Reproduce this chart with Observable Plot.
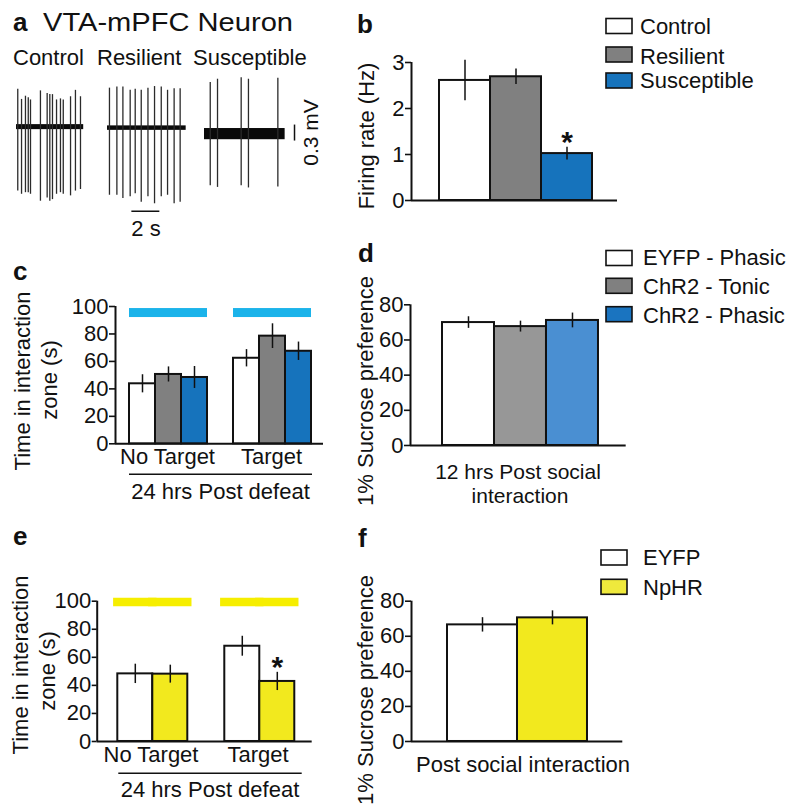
<!DOCTYPE html>
<html><head><meta charset="utf-8">
<script src="https://cdn.jsdelivr.net/npm/d3@7"></script>
<script src="https://cdn.jsdelivr.net/npm/@observablehq/plot@0.6"></script>
<style>
html,body{margin:0;padding:0;background:#fff;}
#fig{position:relative;width:800px;height:808px;overflow:hidden;font-family:"Liberation Sans",Arial,Helvetica,sans-serif;background:#fff;}
#fig > .p{position:absolute;}
#fig svg{overflow:visible;}
#fig [aria-label^="y-axis"] line, #fig [aria-label^="y-axis"] path{stroke-width:1.6px;}
</style></head><body><div id="fig"></div>
<script>
// ---------- DATA ----------
// a: spike traces (time s, spike peak / trough mV)
const controlSpikeTimes = [0.09,0.36,0.64,0.84,1.0,1.71,2.19,2.38,2.57,2.86,3.14,3.34,3.86,4.21,4.57];
const controlSpikeUp    = [0.71,0.52,0.58,0.55,0.51,0.68,0.63,0.61,0.61,0.51,0.53,0.51,0.57,0.69,0.57];
const controlSpikeDown  = [-1.20,-1.26,-1.23,-1.23,-1.26,-1.39,-1.33,-1.39,-1.36,-1.26,-1.23,-1.26,-1.29,-1.20,-1.17];
const resilientSpikeTimes = [0.14,0.67,1.10,1.62,1.98,2.41,2.89,3.36,3.84,4.29,4.76,5.19];
const resilientSpikeUp    = [0.75,0.77,0.77,0.71,0.73,0.71,0.75,0.78,0.77,0.71,0.74,0.74];
const resilientSpikeDown  = [-1.26,-1.26,-1.32,-1.29,-1.23,-1.39,-1.29,-1.42,-1.29,-1.26,-1.42,-1.39];
const susceptibleSpikeTimes = [0.41,0.93,2.62,3.14,5.24];
const susceptibleSpikeUp    = [0.97,1.03,1.06,1.03,1.05];
const susceptibleSpikeDown  = [-0.97,-1.00,-0.97,-1.01,-0.99];
const traceNames = ["Control","Resilient","Susceptible"];
const traceDuration = [4.8, 5.62, 5.76];      // s
const traceNoise = [0.047, 0.042, 0.105];      // mV half-band
const timeScaleBar = 2;      // s
const voltScaleBar = 0.3;    // mV

// b: firing rate
const firingGroups = ["Control","Resilient","Susceptible"];
const firingRate = [2.61, 2.69, 1.02];
const firingSem  = [0.44, 0.17, 0.14];
const firingSig  = [false, false, true];

// c / d: ChR2
const socialGroups = ["No Target","Target"];
const chr2Conds = ["EYFP - Phasic","ChR2 - Tonic","ChR2 - Phasic"];
const chr2NoTarget    = [43.7, 50.5, 48.3];
const chr2NoTargetSem = [6.6, 5.5, 8.0];
const chr2Target      = [62.3, 78.4, 67.4];
const chr2TargetSem   = [6.3, 9.0, 6.7];
const blueLightLevel  = 95.6;
const chr2Sucrose     = [69.9, 67.6, 71.1];
const chr2SucroseSem  = [3.3, 3.1, 4.2];

// e / f: NpHR
const nphrConds = ["EYFP","NpHR"];
const nphrNoTarget    = [48.2, 48.0];
const nphrNoTargetSem = [6.9, 6.4];
const nphrTarget      = [67.9, 42.8];
const nphrTargetSem   = [7.1, 6.5];
const nphrTargetSig   = [false, true];
const yellowLightLevel = 99.4;
const nphrSucrose     = [66.5, 70.5];
const nphrSucroseSem  = [4.1, 4.0];

// tick values
const firingTicks = [0,1,2,3];
const timeTicks = [0,20,40,60,80,100];
const sucroseTicks = [0,20,40,60,80];

// palettes
const firingColors = ["#ffffff","#808080","#1673bc"];
const chr2Colors = ["#ffffff","#808080","#1673bc"];
const chr2SucroseColors = ["#ffffff","#979797","#4a8fd2"];
const chr2LegendColors = ["#ffffff","#808080","#1a74c0"];
const nphrColors = ["#ffffff","#f2e91e"];
const nphrLegendColors = ["#ffffff","#efe93c"];

// ---------- HELPERS ----------
const FONT = '"Liberation Sans", Arial, Helvetica, sans-serif';
const fig = document.getElementById("fig");
function place(node, left, top) {
  const d = document.createElement("div");
  d.className = "p"; d.style.left = left + "px"; d.style.top = top + "px";
  d.appendChild(node); fig.appendChild(d);
}
const baseStyle = {background: "transparent", fontSize: "22px", fontFamily: FONT, color: "#111", overflow: "visible"};

// a: traces
const PX_PER_S = 14, PX_PER_MV = 53.3, Y_MIN = -1.7, Y_MAX = 1.25;
function trace({times, up, down, dur, noise, xMax, left, baseline, extra = []}) {
  const spikes = times.map((t, i) => ({t, up: up[i], down: down[i]}));
  const plot = Plot.plot({
    width: xMax * PX_PER_S, height: (Y_MAX - Y_MIN) * PX_PER_MV, margin: 0,
    x: {domain: [0, xMax], axis: null},
    y: {domain: [Y_MIN, Y_MAX], axis: null},
    style: {background: "transparent", overflow: "visible"},
    marks: [
      Plot.rect([{dur, noise}], {x1: 0, x2: "dur", y1: d => -d.noise, y2: "noise", fill: "#0a0a0a"}),
      Plot.ruleX(spikes, {x: "t", y1: "down", y2: "up", stroke: "#2b2b2b", strokeWidth: 1.3}),
      ...extra
    ]
  });
  place(plot, left, baseline - Y_MAX * PX_PER_MV);
}
trace({times: controlSpikeTimes, up: controlSpikeUp, down: controlSpikeDown,
  dur: traceDuration[0], noise: traceNoise[0], xMax: 5, left: 16, baseline: 126.5});
trace({times: resilientSpikeTimes, up: resilientSpikeUp, down: resilientSpikeDown,
  dur: traceDuration[1], noise: traceNoise[1], xMax: 5.8, left: 107.3, baseline: 127.7,
  extra: [Plot.ruleY([{t0: 1.74, v: -1.56}], {y: "v", x1: "t0", x2: d => d.t0 + timeScaleBar, stroke: "#111", strokeWidth: 1.5})]});
trace({times: susceptibleSpikeTimes, up: susceptibleSpikeUp, down: susceptibleSpikeDown,
  dur: traceDuration[2], noise: traceNoise[2], xMax: 6.6, left: 204.3, baseline: 133.3,
  extra: [Plot.ruleX([{t: 6.43, v0: -0.13}], {x: "t", y1: "v0", y2: d => d.v0 + voltScaleBar, stroke: "#111", strokeWidth: 1.5})]});

// bar panels
function barPanel(g) {
  const marginLeft = g.x0 - g.left, marginTop = g.yTop - g.top;
  const marginRight = 20, marginBottom = g.marginBottom || 20;
  const width = marginLeft + (g.x1 - g.x0) + marginRight;
  const height = marginTop + (g.yBottom - g.yTop) + marginBottom;
  const dims = {width, height, marginLeft, marginRight, marginTop, marginBottom};
  const ymax = g.domain[1];
  // axes
  place(Plot.plot({
    ...dims, style: baseStyle,
    x: {domain: [0, 1], axis: null},
    y: {domain: g.domain, ticks: g.ticks, tickFormat: d3.format("d"), tickSize: g.tickSize || 6, tickPadding: 1, label: null},
    marks: [
      Plot.ruleX([0], {y1: 0, y2: ymax, stroke: "#111", strokeWidth: 2}),
      Plot.ruleY([0], {stroke: "#111", strokeWidth: 2})
    ]
  }), g.left, g.top);
  // bars
  const rows = g.rows;
  const marks = [];
  if (g.stim != null) marks.push(Plot.tickY(rows, {x: "cond", y: () => g.stim, stroke: g.stimColor, strokeWidth: g.stimWidth, strokeLinecap: g.stimCap || "butt"}));
  marks.push(
    Plot.barY(rows, {x: "cond", y: "value", fill: "cond", stroke: "#111", strokeWidth: 2}),
    Plot.ruleX(rows, {x: "cond", y1: d => d.value - d.sem, y2: d => d.value + d.sem, stroke: "#111", strokeWidth: 1.5}),
    Plot.text(rows, {x: "cond", y: d => d.value + d.sem, text: d => d.sig ? "*" : "", dy: -5, fontSize: 30, fontWeight: "bold", fill: "#111"})
  );
  const opts = {
    ...dims, style: baseStyle,
    y: {domain: g.domain, axis: null},
    x: {domain: g.conds, paddingInner: 0, paddingOuter: g.po, align: g.align, axis: null},
    color: {domain: g.conds, range: g.colors},
    marks
  };
  if (g.groups) {
    opts.fx = {domain: g.groups, padding: 0, axis: "bottom", tickSize: 0, tickPadding: 4.4, label: null};
    opts.facet = {data: rows, x: "group"};
  }
  place(Plot.plot(opts), g.left, g.top);
}
function makeRows(conds, values, sems, group, sig) {
  return conds.map((c, i) => ({group, cond: c, value: values[i], sem: sems[i], sig: sig ? sig[i] : false}));
}

// b
barPanel({left: 340, top: 40, x0: 411, x1: 617, yTop: 62, yBottom: 200, domain: [0, 3], ticks: firingTicks,
  conds: firingGroups, colors: firingColors, po: 0.493, align: 0.52,
  rows: makeRows(firingGroups, firingRate, firingSem, null, firingSig)});
// c
barPanel({left: 60, top: 290, x0: 115, x1: 323, yTop: 306, yBottom: 443.3, domain: [0, 100], ticks: timeTicks,
  conds: chr2Conds, colors: chr2Colors, po: 0.482, align: 0.54, groups: socialGroups, marginBottom: 40,
  stim: blueLightLevel, stimColor: "#1bb3ea", stimWidth: 9,
  rows: [...makeRows(chr2Conds, chr2NoTarget, chr2NoTargetSem, socialGroups[0]),
         ...makeRows(chr2Conds, chr2Target, chr2TargetSem, socialGroups[1])]});
// d
barPanel({left: 340, top: 290, x0: 410, x1: 625.7, yTop: 304.3, yBottom: 445, domain: [0, 80], ticks: sucroseTicks,
  conds: chr2Conds, colors: chr2SucroseColors, po: 0.54, align: 0.54,
  rows: makeRows(chr2Conds, chr2Sucrose, chr2SucroseSem, null)});
// e
barPanel({left: 40, top: 585, x0: 96.7, x1: 311.7, yTop: 600.7, yBottom: 741, domain: [0, 100], ticks: timeTicks, tickSize: 5,
  conds: nphrConds, colors: nphrColors, po: 0.493, align: 0.56, groups: socialGroups, marginBottom: 40,
  stim: yellowLightLevel, stimColor: "#f6ee00", stimWidth: 8.4, stimCap: "square",
  rows: [...makeRows(nphrConds, nphrNoTarget, nphrNoTargetSem, socialGroups[0]),
         ...makeRows(nphrConds, nphrTarget, nphrTargetSem, socialGroups[1], nphrTargetSig)]});
// f
barPanel({left: 340, top: 585, x0: 411, x1: 622.3, yTop: 600.7, yBottom: 741, domain: [0, 80], ticks: sucroseTicks,
  conds: nphrConds, colors: nphrColors, po: 0.491, align: 0.5,
  rows: makeRows(nphrConds, nphrSucrose, nphrSucroseSem, null)});

// ---------- TEXT / LEGEND OVERLAY ----------
const ov = d3.create("svg").attr("width", 800).attr("height", 808)
  .style("position", "absolute").style("left", "0px").style("top", "0px")
  .style("pointer-events", "none").style("font-family", FONT).style("fill", "#111");
function txt(s, x, y, o = {}) {
  const t = ov.append("text").attr("x", x).attr("y", y).text(s)
    .attr("font-size", o.size || 22).attr("fill", "#111");
  if (o.bold) t.attr("font-weight", "bold");
  if (o.anchor) t.attr("text-anchor", o.anchor);
  if (o.len) t.attr("textLength", o.len).attr("lengthAdjust", "spacingAndGlyphs");
  return t;
}
function vtxt(s, x, y, size = 22) {
  ov.append("text").attr("transform", `translate(${x},${y}) rotate(-90)`).attr("text-anchor", "middle")
    .attr("font-size", size).attr("fill", "#111").text(s);
}
function hline(x1, x2, y) {
  ov.append("line").attr("x1", x1).attr("x2", x2).attr("y1", y).attr("y2", y).attr("stroke", "#111").attr("stroke-width", 1.5);
}
function legend(labels, colors, boxX, boxTops, baselines, textX) {
  labels.forEach((l, i) => {
    ov.append("rect").attr("x", boxX).attr("y", boxTops[i]).attr("width", 26).attr("height", 15)
      .attr("fill", colors[i]).attr("stroke", "#111").attr("stroke-width", 1.6);
    txt(l, textX, baselines[i]);
  });
}
// panel letters
txt("a", 13, 31, {bold: true, size: 26});
txt("b", 357, 33, {bold: true, size: 26});
txt("c", 13, 280, {bold: true, size: 26});
txt("d", 358, 262, {bold: true, size: 26});
txt("e", 13, 545, {bold: true, size: 26});
txt("f", 358, 547, {bold: true, size: 26});
// a
txt("VTA-mPFC Neuron", 43, 31, {size: 26, len: 250});
txt(traceNames[0], 13, 65);
txt(traceNames[1], 97, 65);
txt(traceNames[2], 193, 65);
txt(timeScaleBar + " s", 146, 236, {anchor: "middle"});
vtxt(voltScaleBar + " mV", 318, 132.5, 21);
// b
vtxt("Firing rate (Hz)", 374, 136);
legend(firingGroups, firingColors, 606, [18.5, 47, 73], [34, 64, 88], 640);
// c
vtxt("Time in interaction", 30, 381);
vtxt("zone (s)", 57, 380);
hline(129, 312, 474.3);
txt("24 hrs Post defeat", 220.5, 499.3, {anchor: "middle"});
// d
vtxt("1% Sucrose preference", 373, 391);
legend(chr2Conds, chr2LegendColors, 606, [250.5, 278.3, 306.7], [265, 294, 322.5], 643);
txt("12 hrs Post social", 518, 478.5, {anchor: "middle", size: 21});
txt("interaction", 520, 503, {anchor: "middle", size: 21});
// e
vtxt("Time in interaction", 28, 665);
vtxt("zone (s)", 55, 671);
hline(118.3, 301.7, 773.3);
txt("24 hrs Post defeat", 210, 797, {anchor: "middle"});
// f
vtxt("1% Sucrose preference", 373, 690);
legend(nphrConds, nphrLegendColors, 601, [550, 579.3], [565, 595], 643);
txt("Post social interaction", 523, 772, {anchor: "middle"});

fig.appendChild(ov.node());
</script></body></html>
